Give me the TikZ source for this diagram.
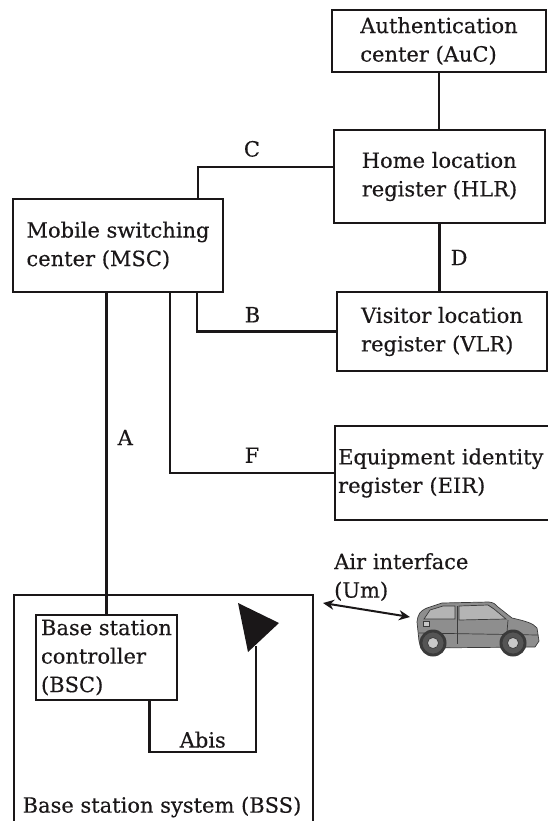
\documentclass[tikz,border=0pt]{standalone}
\usepackage{fontspec}
\setmainfont{DejaVu Serif}[FakeBold=0.4]
\usepackage{tikz}
\usetikzlibrary{arrows.meta,calc}
\definecolor{ink}{HTML}{1A1718}
\definecolor{carbody}{HTML}{8E8E8E}
\definecolor{cartrim}{HTML}{3A3A3A}
\definecolor{carglass}{HTML}{B4B4B4}
\definecolor{cartyre}{HTML}{555555}
\definecolor{carhub}{HTML}{C8C8C8}
\tikzset{
  box/.style={draw=ink, line width=2.3pt, inner sep=0pt, align=left, text=ink},
  link/.style={draw=ink, line width=2.3pt},
  air/.style={draw=ink, line width=2pt, {Stealth[length=11pt,width=10pt]}-{Stealth[length=11pt,width=10pt]}},
  lab/.style={text=ink, inner sep=1pt},
  trim/.style={draw=cartrim, line width=0.7pt},
}

\begin{document}
\begin{tikzpicture}[x=1pt, y=-1pt, font=\fontsize{21}{28.5}\selectfont]
  \useasboundingbox (0,0) rectangle (548,821);
  % network subsystem
  \node[box, minimum width=214pt, minimum height=62pt] (auc) at (439,41) {Authentication\\center (AuC)};
  \node[box, minimum width=211pt, minimum height=93pt] (hlr) at (439.5,176.5) {Home location\\register (HLR)};
  \node[box, minimum width=210pt, minimum height=93pt] (msc) at (118,245.5) {Mobile switching\\center (MSC)};
  \node[box, minimum width=210pt, minimum height=79pt] (vlr) at (442,331.5) {Visitor location\\register (VLR)};
  \node[box, anchor=west, text width=258pt, inner xsep=3pt, minimum height=94pt] (eir) at (334,473) {Equipment identity\\register (EIR)};
  % base station system
  \node[box, anchor=north west, minimum width=299pt, minimum height=330pt] (bss) at (13,594) {};
  \node[box, minimum width=141pt, minimum height=85pt] (bsc) at (106.5,657.5) {Base station\\controller\\(BSC)};
  \node[lab] (bsslab) at (162,807) {Base station system (BSS)};
  \fill[ink] (238,603) -- (279,623) -- (248,652) -- cycle;
  \coordinate (ant) at (256,646);
  \coordinate (abisbend) at (256,752);
  % interfaces
  \draw[link] (auc.south) -- (auc.south |- hlr.north);
  \draw[link] ([xshift=80pt]msc.north) |- ([yshift=9.5pt]hlr.west) node[lab, pos=0.7, above=8pt] {C};
  \draw[link] (hlr.south) -- (hlr.south |- vlr.north) node[lab, midway, right=9pt] {D};
  \draw[link] ([xshift=79pt]msc.south) |- (vlr.west) node[lab, pos=0.7, above=7pt] {B};
  \draw[link] ([xshift=52pt]msc.south) |- (eir.west) node[lab, pos=0.75, above=8pt] {F};
  \draw[link] (bsc.north |- msc.south) -- (bsc.north) node[lab, pos=0.45, right=9pt] {A};
  \draw[link] ([xshift=43pt]bsc.south) |- (abisbend) node[lab, pos=0.75, above=2pt] {Abis} -- (ant);
  % air interface
  \node[lab, align=left, anchor=west] (air) at (333,577) {Air interface\\(Um)};
  \coordinate (um1) at (323,603);
  \coordinate (um2) at (410,617);
  \draw[air] (um1) -- (um2);
  % car
  \filldraw[fill=carbody, trim, line join=round]
    (419,641) -- (417,622) .. controls (418,614) and (420,611) .. (427,608)
    -- (442,603) -- (489,602) .. controls (494,603) .. (498,607) -- (512,618)
    .. controls (525,621) and (533,623) .. (537,628) -- (539,641) -- (535,647)
    -- (421,648) -- cycle;
  \filldraw[fill=carglass, trim] (424,619) -- (430,610) -- (443,606) -- (455,606) -- (455,619) -- cycle;
  \filldraw[fill=carglass, trim] (459,606) -- (488,605) -- (494,609) -- (506,619) -- (459,620) -- cycle;
  \draw[trim] (457,606) -- (457,644);
  \draw[trim] (508,620) -- (506,644);
  \draw[trim] (419,633) -- (538,635);
  \filldraw[fill=carhub, trim] (423,621) rectangle (429,626);
  \foreach \cx in {433,513} {
    \fill[cartrim] (\cx,643) circle (13.5pt);
    \filldraw[fill=cartyre, trim] (\cx,643) circle (11pt);
    \filldraw[fill=carhub, trim] (\cx,643) circle (5.5pt);
  }
\end{tikzpicture}
\end{document}
